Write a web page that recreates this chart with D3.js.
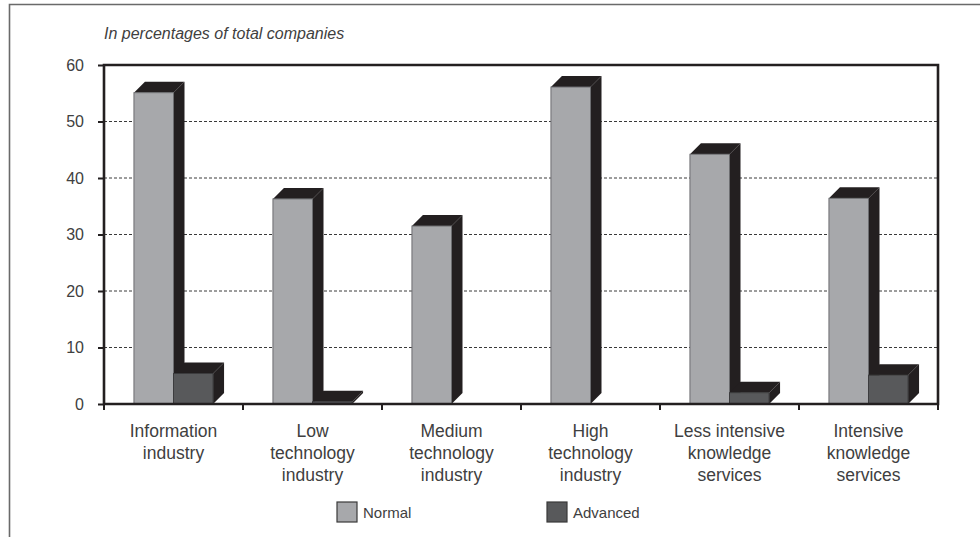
<!DOCTYPE html>
<html>
<head>
<meta charset="utf-8">
<script src="https://cdn.jsdelivr.net/npm/d3@7"></script>
<style>
  html, body { margin: 0; padding: 0; background: #fff; }
  svg { display: block; font-family: "Liberation Sans", Arial, Helvetica, sans-serif; }
</style>
</head>
<body>
<svg id="chart" width="980" height="537"></svg>
<script>
// Sector categories (one entry per group, split into display lines)
const categories = [
  "Information industry",
  "Low technology industry",
  "Medium technology industry",
  "High technology industry",
  "Less intensive knowledge services",
  "Intensive knowledge services"
];
const categoryLines = [
  ["Information", "industry"],
  ["Low", "technology", "industry"],
  ["Medium", "technology", "industry"],
  ["High", "technology", "industry"],
  ["Less intensive", "knowledge", "services"],
  ["Intensive", "knowledge", "services"]
];
const seriesNames = ["Normal", "Advanced"];
const normalValues   = [55.1, 36.3, 31.5, 56.1, 44.2, 36.4];
const advancedValues = [5.4, 0.4, 0, 0, 2.0, 5.1];
const yTicks = [0, 10, 20, 30, 40, 50, 60];
const titleText = "In percentages of total companies";

const svg = d3.select("#chart");

const plot = { left: 104, right: 938, top: 65, bottom: 404 };
const depth = { dx: 11, dy: 11 };
const colors = { Normal: "#a7a8ab", Advanced: "#58595b" };
const strokes = { Normal: "#6d6e71", Advanced: "#3c3c3e" };
const shadeColor = "#231f20";
const axisColor = "#231f20";
const textColor = "#404040";

const x = d3.scaleBand().domain(categories).range([plot.left, plot.right]).padding(0);
const x1 = d3.scaleBand().domain(seriesNames).range([0, x.bandwidth()])
  .paddingInner(0).paddingOuter(0.757);
const y = d3.scaleLinear().domain([0, 60]).range([plot.bottom, plot.top]);

// Outer frame (left and top edges)
svg.append("path")
  .attr("d", `M9.5,537 L9.5,4.5 L980,4.5`)
  .attr("fill", "none").attr("stroke", "#6a6a6a").attr("stroke-width", 1.6);

// Title
svg.append("text")
  .attr("x", plot.left).attr("y", 39)
  .attr("font-size", 16).attr("font-style", "italic")
  .attr("fill", textColor)
  .text(titleText);

// Dotted gridlines
svg.append("g").selectAll("line")
  .data(yTicks.filter(t => t > 0 && t < 60))
  .join("line")
  .attr("x1", plot.left).attr("x2", plot.right)
  .attr("y1", d => y(d)).attr("y2", d => y(d))
  .attr("stroke", "#3a3a3a").attr("stroke-width", 1)
  .attr("stroke-dasharray", "3,2");

// Bars: front face, top face and side face
const rows = categories.map((c, i) => ({
  cat: c,
  bars: [
    { s: "Normal", v: normalValues[i] },
    { s: "Advanced", v: advancedValues[i] }
  ].filter(b => b.v > 0)
}));

const barsG = svg.append("g");
rows.forEach(row => {
  row.bars.forEach(b => {
    const x0 = x(row.cat) + x1(b.s);
    const w = x1.bandwidth();
    const yt = y(b.v);
    const yb = y(0);
    const g = barsG.append("g");
    // side face
    g.append("path")
      .attr("d", `M${x0 + w},${yt} L${x0 + w + depth.dx},${yt - depth.dy} L${x0 + w + depth.dx},${yb - depth.dy} L${x0 + w},${yb} Z`)
      .attr("fill", shadeColor);
    // top face
    g.append("path")
      .attr("d", `M${x0},${yt} L${x0 + depth.dx},${yt - depth.dy} L${x0 + w + depth.dx},${yt - depth.dy} L${x0 + w},${yt} Z`)
      .attr("fill", shadeColor);
    // front face
    g.append("rect")
      .attr("x", x0).attr("y", yt)
      .attr("width", w).attr("height", yb - yt)
      .attr("fill", colors[b.s])
      .attr("stroke", strokes[b.s]).attr("stroke-width", 1);
  });
});

// Frame of the plot area
svg.append("path")
  .attr("d", `M${plot.left},${plot.bottom} L${plot.left},${plot.top} L${plot.right},${plot.top} L${plot.right},${plot.bottom} Z`)
  .attr("fill", "none").attr("stroke", axisColor).attr("stroke-width", 2.6);

// Y axis
const yAxis = svg.append("g")
  .attr("transform", `translate(${plot.left},0)`)
  .call(d3.axisLeft(y).tickValues(yTicks).tickSize(6).tickPadding(14).tickFormat(d3.format("d")));
yAxis.select(".domain").remove();
yAxis.selectAll(".tick line").attr("stroke", axisColor).attr("stroke-width", 2);
yAxis.selectAll(".tick text")
  .attr("fill", textColor).attr("font-size", 16)
  .attr("font-family", "Liberation Sans, Arial, sans-serif");

// X axis ticks at group boundaries
const boundaries = categories.map(c => x(c)).concat([x.range()[1]]);
svg.append("g").selectAll("line")
  .data(boundaries)
  .join("line")
  .attr("x1", d => d).attr("x2", d => d)
  .attr("y1", plot.bottom).attr("y2", plot.bottom + 6)
  .attr("stroke", axisColor).attr("stroke-width", 2);

// X category labels
const labelG = svg.append("g");
categories.forEach((c, i) => {
  const t = labelG.append("text")
    .attr("x", x(c) + x.bandwidth() / 2)
    .attr("y", 437)
    .attr("text-anchor", "middle")
    .attr("font-size", 17.5)
    .attr("fill", textColor);
  categoryLines[i].forEach((line, j) => {
    t.append("tspan")
      .attr("x", x(c) + x.bandwidth() / 2)
      .attr("dy", j === 0 ? 0 : 22)
      .text(line);
  });
});

// Legend
const legendPos = [337, 547];
const legend = svg.append("g");
seriesNames.forEach((s, i) => {
  legend.append("rect")
    .attr("x", legendPos[i]).attr("y", 502)
    .attr("width", 20).attr("height", 20)
    .attr("fill", colors[s]).attr("stroke", "#3a3a3a").attr("stroke-width", 1.2);
  legend.append("text")
    .attr("x", legendPos[i] + 26).attr("y", 518)
    .attr("font-size", 15).attr("fill", textColor)
    .text(s);
});
</script>
</body>
</html>
